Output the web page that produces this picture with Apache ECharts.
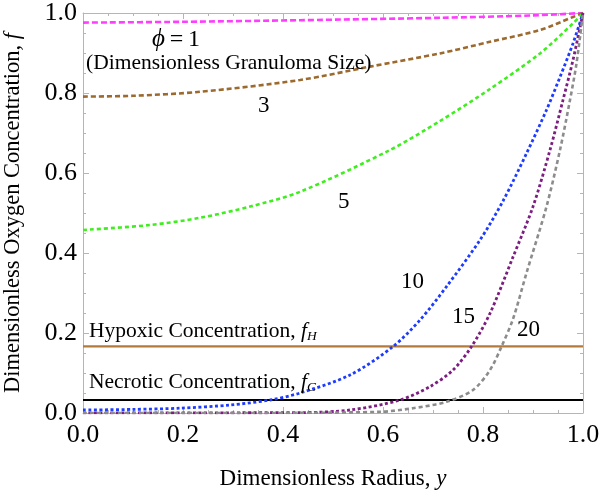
<!DOCTYPE html>
<html>
<head>
<meta charset="utf-8">
<script src="https://cdn.jsdelivr.net/npm/echarts@6/dist/echarts.min.js"></script>
<style>html,body{margin:0;padding:0;background:#fff}#c{width:600px;height:493px}</style>
</head>
<body>
<div id="c"></div>
<script>
// ---- data ----
const tickLabels = ['0.0', '0.2', '0.4', '0.6', '0.8', '1.0'];

const phi1X = [0, 0.2, 0.434, 0.714, 0.9, 1.0];
const phi1Y = [0.976, 0.978, 0.982, 0.988, 0.994, 1.0];

const phi3X = [0, 0.1, 0.234, 0.434, 0.574, 0.714, 0.814, 0.914, 0.98, 1.0];
const phi3Y = [0.791, 0.793, 0.803, 0.8325, 0.866, 0.899, 0.928, 0.9575, 0.99, 1.0];

const phi5X = [0, 0.134, 0.234, 0.334, 0.434, 0.614, 0.714, 0.814, 0.914, 0.98, 1.0];
const phi5Y = [0.4575, 0.47, 0.488, 0.516, 0.553, 0.6575, 0.73, 0.81, 0.899, 0.974, 1.0];

const phi10X = [0, 0.1, 0.194, 0.294, 0.374, 0.434, 0.534, 0.62, 0.674, 0.727, 0.794, 0.84, 0.887, 0.927, 0.954, 0.98, 1.0];
const phi10Y = [0.0075, 0.009, 0.012, 0.02, 0.0325, 0.05, 0.095, 0.166, 0.2325, 0.316, 0.4325, 0.53, 0.649, 0.7575, 0.84, 0.924, 1.0];

const phi15X = [0, 0.2, 0.434, 0.534, 0.634, 0.694, 0.74, 0.777, 0.814, 0.86, 0.9, 0.934, 0.96, 0.98, 1.0];
const phi15Y = [0.0005, 0.0005, 0.001, 0.0075, 0.0325, 0.066, 0.1075, 0.166, 0.249, 0.39, 0.516, 0.6575, 0.7825, 0.8825, 1.0];

const phi20X = [0, 0.3, 0.594, 0.66, 0.727, 0.78, 0.814, 0.837, 0.86, 0.887, 0.927, 0.954, 0.974, 0.987, 1.0];
const phi20Y = [0, 0, 0.003, 0.012, 0.028, 0.0575, 0.1075, 0.166, 0.235, 0.35, 0.516, 0.6575, 0.7825, 0.874, 1.0];

const hypoxicLevel = 0.1665;
const necroticLevel = 0.0325;

// ---- build ----
const zip = (xs, ys) => xs.map((x, i) => [x, ys[i]]);
const serif = 'Liberation Serif';

function curve(name, xs, ys, color, dash, width) {
  return {
    name, type: 'line', data: zip(xs, ys), smooth: 0.3,
    showSymbol: false, symbol: 'none', z: 3,
    lineStyle: { color, width: width || 2.6, type: dash }
  };
}
function level(name, v, color) {
  return {
    name, type: 'line', data: [[0, v], [1, v]], showSymbol: false, symbol: 'none', z: 2,
    lineStyle: { color, width: 2.2, type: 'solid' }
  };
}

const frameColor = '#b5b5b5';
function axisBase(pos, labels, margin) {
  return {
    type: 'value', min: 0, max: 1, interval: 0.2, position: pos,
    axisLine: { show: true, onZero: false, lineStyle: { color: frameColor, width: 1 } },
    axisTick: { show: true, inside: true, length: 6, lineStyle: { color: frameColor } },
    minorTick: { show: true, splitNumber: 4, length: 3, lineStyle: { color: frameColor } },
    splitLine: { show: false },
    axisLabel: labels ? {
      show: true, fontFamily: serif, fontSize: 26, color: '#000', margin,
      formatter: v => tickLabels[Math.round(v / 0.2)]
    } : { show: false }
  };
}

const nameRich = {
  n: { fontFamily: serif, fontSize: 23, color: '#000' },
  i: { fontFamily: serif, fontSize: 23, fontStyle: 'italic', color: '#000' }
};
const nameRichY = {
  n: { fontFamily: serif, fontSize: 22.5, color: '#000' },
  i: { fontFamily: serif, fontSize: 22.5, fontStyle: 'italic', color: '#000' }
};
const xMain = axisBase('bottom', true, 9);
xMain.name = '{n|Dimensionless Radius, }{i|y}';
xMain.nameLocation = 'middle';
xMain.nameGap = 54;
xMain.nameTextStyle = { rich: nameRich };
const yMain = axisBase('left', true, 6);
yMain.name = '{n|Dimensionless Oxygen Concentration, }{i|f}';
yMain.nameLocation = 'middle';
yMain.nameGap = 58;
yMain.nameTextStyle = { rich: nameRichY };

const xTop = axisBase('top', false, 0);
const yRight = axisBase('right', false, 0);

const txt = (left, top, text, size, extra) => ({
  type: 'text', left, top, z: 10,
  style: Object.assign({ text, fontFamily: serif, fontSize: size, fill: '#000' }, extra || {})
});
const subRich = {
  n: { fontFamily: serif, fontSize: 21.5, fill: '#000', lineHeight: 24 },
  f: { fontFamily: serif, fontSize: 21.5, fontStyle: 'italic', lineHeight: 24 },
  s: { fontFamily: serif, fontSize: 13.5, fontStyle: 'italic', lineHeight: 24, padding: [12, 0, 0, 0], verticalAlign: 'bottom' }
};

const chart = echarts.init(document.getElementById('c'), null, { renderer: 'canvas' });
chart.setOption({
  animation: false,
  backgroundColor: '#fff',
  grid: { left: 83, right: 17, top: 13, bottom: 80, containLabel: false, outerBoundsMode: 'none' },
  xAxis: [xMain, xTop],
  yAxis: [yMain, yRight],
  series: [
    level('Hypoxic', hypoxicLevel, '#b47a3a'),
    level('Necrotic', necroticLevel, '#000000'),
    curve('phi=1', phi1X, phi1Y, '#ff3cff', [6, 3]),
    curve('phi=3', phi3X, phi3Y, '#9c6a2e', [5, 3]),
    curve('phi=5', phi5X, phi5Y, '#3fee1e', [4, 3]),
    curve('phi=10', phi10X, phi10Y, '#1e3cff', [3, 2.5], 2.8),
    curve('phi=15', phi15X, phi15Y, '#7c1e80', [3, 2.5], 2.8),
    curve('phi=20', phi20X, phi20Y, '#8c8c8c', [4, 3])
  ],
  graphic: [
    txt(152, 27, '', 24, { rich: {
      a: { fontFamily: serif, fontSize: 25, fontStyle: 'italic' },
      b: { fontFamily: serif, fontSize: 24 } }, text: '{a|ϕ}{b|\u2009=\u20091}' }),
    txt(86, 52, '(Dimensionless Granuloma Size)', 21.5),
    txt(258, 94, '3', 23),
    txt(338, 190, '5', 23),
    txt(401, 270, '10', 23),
    txt(452, 305, '15', 23),
    txt(517, 318, '20', 23),
    { type: 'text', left: 89, top: 317, z: 10, style: { text: '{n|Hypoxic Concentration, }{f|f}{s|H}', rich: subRich } },
    { type: 'text', left: 89, top: 368, z: 10, style: { text: '{n|Necrotic Concentration, }{f|f}{s|C}', rich: subRich } }
  ]
});
</script>
</body>
</html>
